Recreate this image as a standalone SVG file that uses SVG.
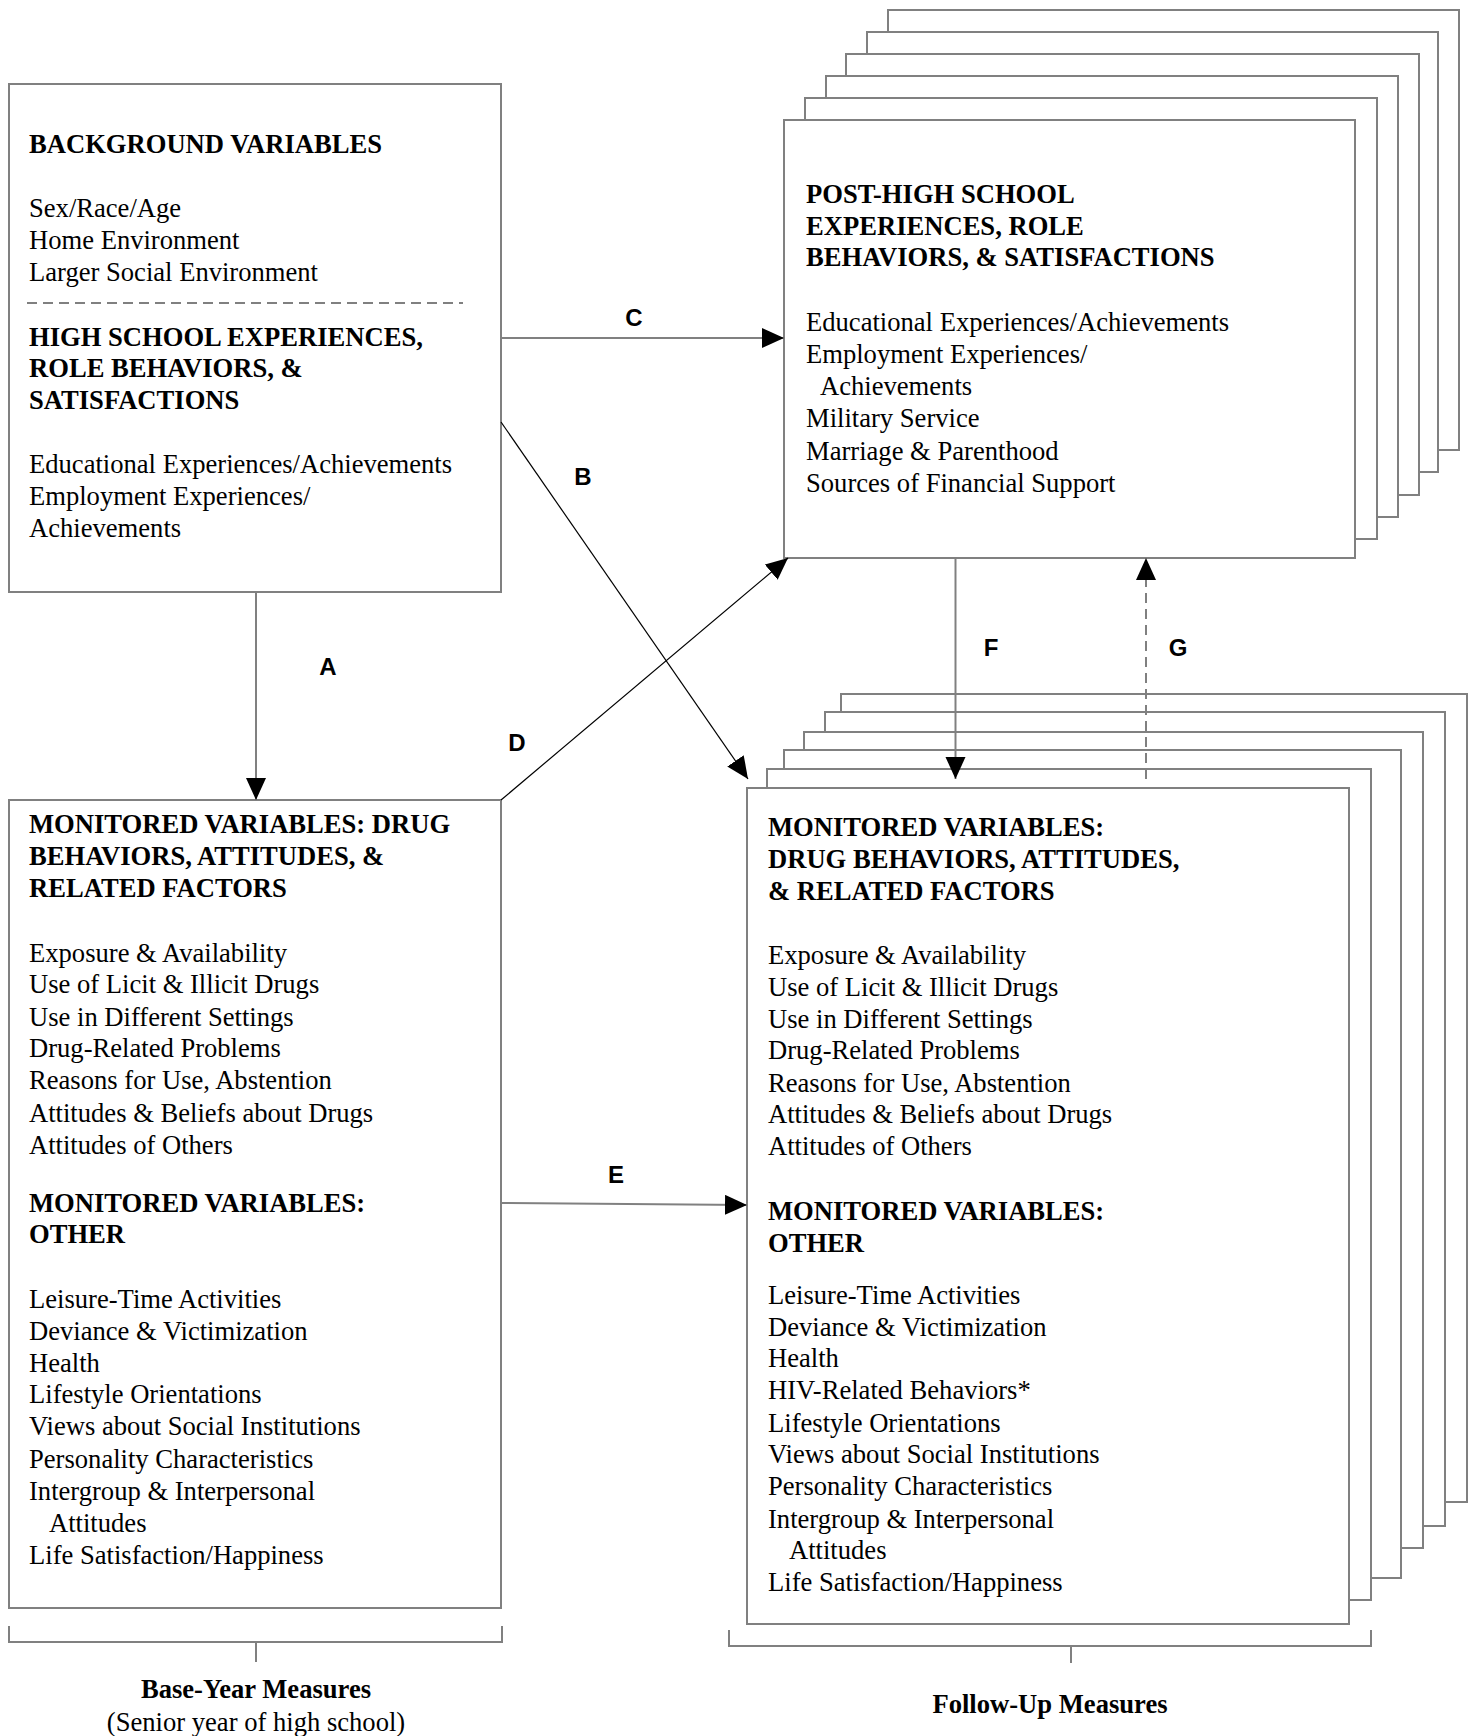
<svg xmlns="http://www.w3.org/2000/svg" width="1474" height="1736" viewBox="0 0 1474 1736">
<style>
.box{fill:#fff;stroke:#808080;stroke-width:2}
.h{font-family:"Liberation Serif","Times New Roman",serif;font-size:26.6px;font-weight:bold;fill:#000}
.t{font-family:"Liberation Serif","Times New Roman",serif;font-size:26.6px;fill:#000}
.lbl{font-family:"Liberation Sans",Arial,sans-serif;font-size:24px;font-weight:bold;fill:#000;text-anchor:middle}
.gl{fill:none;stroke:#808080;stroke-width:2}
.bl{fill:none;stroke:#000;stroke-width:1.2}
.dash{fill:none;stroke:#808080;stroke-width:2;stroke-dasharray:10,6}
.br{fill:none;stroke:#808080;stroke-width:2}
</style>
<defs>
<marker id="arr" markerUnits="userSpaceOnUse" markerWidth="24" markerHeight="22" refX="22" refY="10" orient="auto">
<path d="M0,0 L22,10 L0,20 Z" fill="#000"/>
</marker>
</defs>
<rect width="1474" height="1736" fill="#fff"/>

<g id="base-background">
<rect class="box" x="9" y="84" width="492" height="508"/>
<text class="h" x="29" y="153">BACKGROUND VARIABLES</text>
<text class="t" x="29" y="217">Sex/Race/Age</text>
<text class="t" x="29" y="249">Home Environment</text>
<text class="t" x="29" y="281">Larger Social Environment</text>
<line x1="27" y1="303" x2="463" y2="303" class="dash" stroke-width="1.5"/>
<text class="h" x="29" y="346">HIGH SCHOOL EXPERIENCES,</text>
<text class="h" x="29" y="377">ROLE BEHAVIORS, &amp;</text>
<text class="h" x="29" y="409">SATISFACTIONS</text>
<text class="t" x="29" y="473">Educational Experiences/Achievements</text>
<text class="t" x="29" y="505">Employment Experiences/</text>
<text class="t" x="29" y="537">Achievements</text>
</g>

<g id="base-monitored">
<rect class="box" x="9" y="800" width="492" height="808"/>
<text class="h" x="29" y="833">MONITORED VARIABLES: DRUG</text>
<text class="h" x="29" y="865">BEHAVIORS, ATTITUDES, &amp;</text>
<text class="h" x="29" y="897">RELATED FACTORS</text>
<text class="t" x="29" y="962">Exposure &amp; Availability</text>
<text class="t" x="29" y="993">Use of Licit &amp; Illicit Drugs</text>
<text class="t" x="29" y="1026">Use in Different Settings</text>
<text class="t" x="29" y="1057">Drug-Related Problems</text>
<text class="t" x="29" y="1089">Reasons for Use, Abstention</text>
<text class="t" x="29" y="1122">Attitudes &amp; Beliefs about Drugs</text>
<text class="t" x="29" y="1154">Attitudes of Others</text>
<text class="h" x="29" y="1212">MONITORED VARIABLES:</text>
<text class="h" x="29" y="1243">OTHER</text>
<text class="t" x="29" y="1308">Leisure-Time Activities</text>
<text class="t" x="29" y="1340">Deviance &amp; Victimization</text>
<text class="t" x="29" y="1372">Health</text>
<text class="t" x="29" y="1403">Lifestyle Orientations</text>
<text class="t" x="29" y="1435">Views about Social Institutions</text>
<text class="t" x="29" y="1468">Personality Characteristics</text>
<text class="t" x="29" y="1500">Intergroup &amp; Interpersonal</text>
<text class="t" x="49" y="1532">Attitudes</text>
<text class="t" x="29" y="1564">Life Satisfaction/Happiness</text>
</g>

<g id="followup-posthigh">
<rect class="box" x="888" y="10" width="571" height="440"/>
<rect class="box" x="867" y="32" width="571" height="440"/>
<rect class="box" x="846" y="54" width="573" height="441"/>
<rect class="box" x="826" y="76" width="572" height="441"/>
<rect class="box" x="805" y="98" width="572" height="441"/>
<rect class="box" x="784" y="120" width="571" height="438"/>
<text class="h" x="806" y="203">POST-HIGH SCHOOL</text>
<text class="h" x="806" y="235">EXPERIENCES, ROLE</text>
<text class="h" x="806" y="266">BEHAVIORS, &amp; SATISFACTIONS</text>
<text class="t" x="806" y="331">Educational Experiences/Achievements</text>
<text class="t" x="806" y="363">Employment Experiences/</text>
<text class="t" x="820" y="395">Achievements</text>
<text class="t" x="806" y="427">Military Service</text>
<text class="t" x="806" y="460">Marriage &amp; Parenthood</text>
<text class="t" x="806" y="492">Sources of Financial Support</text>
</g>

<g id="followup-monitored">
<rect class="box" x="841" y="694" width="626" height="808"/>
<rect class="box" x="825" y="712" width="620" height="814"/>
<rect class="box" x="804" y="732" width="619" height="816"/>
<rect class="box" x="784" y="750" width="617" height="828"/>
<rect class="box" x="767" y="769" width="604" height="831"/>
<rect class="box" x="747" y="788" width="602" height="836"/>
<text class="h" x="768" y="836">MONITORED VARIABLES:</text>
<text class="h" x="768" y="868">DRUG BEHAVIORS, ATTITUDES,</text>
<text class="h" x="768" y="900">&amp; RELATED FACTORS</text>
<text class="t" x="768" y="964">Exposure &amp; Availability</text>
<text class="t" x="768" y="996">Use of Licit &amp; Illicit Drugs</text>
<text class="t" x="768" y="1028">Use in Different Settings</text>
<text class="t" x="768" y="1059">Drug-Related Problems</text>
<text class="t" x="768" y="1092">Reasons for Use, Abstention</text>
<text class="t" x="768" y="1123">Attitudes &amp; Beliefs about Drugs</text>
<text class="t" x="768" y="1155">Attitudes of Others</text>
<text class="h" x="768" y="1220">MONITORED VARIABLES:</text>
<text class="h" x="768" y="1252">OTHER</text>
<text class="t" x="768" y="1304">Leisure-Time Activities</text>
<text class="t" x="768" y="1336">Deviance &amp; Victimization</text>
<text class="t" x="768" y="1367">Health</text>
<text class="t" x="768" y="1399">HIV-Related Behaviors*</text>
<text class="t" x="768" y="1432">Lifestyle Orientations</text>
<text class="t" x="768" y="1463">Views about Social Institutions</text>
<text class="t" x="768" y="1495">Personality Characteristics</text>
<text class="t" x="768" y="1528">Intergroup &amp; Interpersonal</text>
<text class="t" x="789" y="1559">Attitudes</text>
<text class="t" x="768" y="1591">Life Satisfaction/Happiness</text>
</g>

<g id="connectors">
<line class="gl" x1="256" y1="592" x2="256" y2="800" marker-end="url(#arr)"/>
<line class="bl" x1="501" y1="422" x2="748" y2="779" marker-end="url(#arr)"/>
<line class="gl" x1="501" y1="338" x2="784" y2="338" marker-end="url(#arr)"/>
<line class="bl" x1="501" y1="800" x2="788" y2="558" marker-end="url(#arr)"/>
<line class="gl" x1="501" y1="1203" x2="747" y2="1205" marker-end="url(#arr)"/>
<line class="gl" x1="955.5" y1="558" x2="955.5" y2="779" marker-end="url(#arr)"/>
<line class="dash" x1="1146" y1="779" x2="1146" y2="558" marker-end="url(#arr)"/>
<text class="lbl" x="328" y="675">A</text>
<text class="lbl" x="583" y="485">B</text>
<text class="lbl" x="634" y="326">C</text>
<text class="lbl" x="517" y="751">D</text>
<text class="lbl" x="616" y="1183">E</text>
<text class="lbl" x="991" y="656">F</text>
<text class="lbl" x="1178" y="656">G</text>
</g>

<g id="bracket-base">
<path class="br" d="M9,1626 V1642 H502 V1626 M256,1642 V1662"/>
<text class="h" x="256" y="1698" text-anchor="middle">Base-Year Measures</text>
<text class="t" x="256" y="1731" text-anchor="middle">(Senior year of high school)</text>
</g>

<g id="bracket-followup">
<path class="br" d="M729,1630 V1646 H1371 V1630 M1071,1646 V1663"/>
<text class="h" x="1050" y="1713" text-anchor="middle">Follow-Up Measures</text>
</g>
</svg>
